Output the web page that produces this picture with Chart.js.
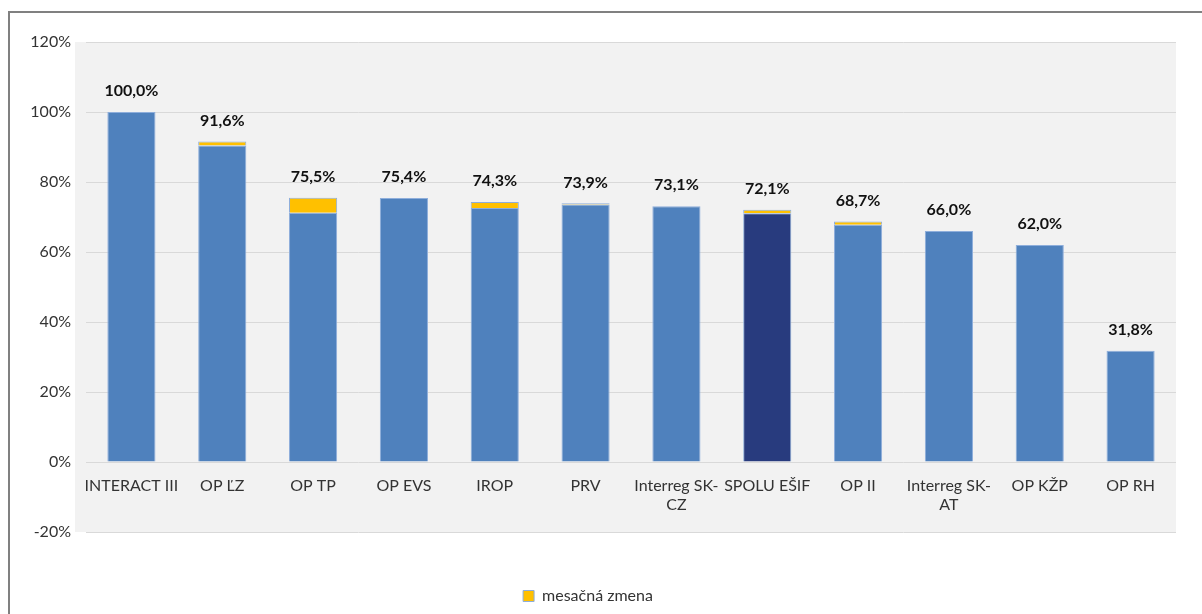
<!DOCTYPE html>
<html>
<head>
<meta charset="utf-8">
<script src="https://cdn.jsdelivr.net/npm/chart.js@4/dist/chart.umd.min.js"></script>
<style>
  html, body { margin: 0; padding: 0; background: #fff; }
  #wrap { position: relative; width: 1202px; height: 614px; overflow: hidden; }
  canvas { position: absolute; left: 0; top: 0; }
</style>
</head>
<body>
<div id="wrap"><canvas id="chart" width="1202" height="614"></canvas></div>
<script>
// categories (programs)
const programs = ['INTERACT III', 'OP ĽZ', 'OP TP', 'OP EVS', 'IROP', 'PRV', ['Interreg SK-', 'CZ'],
    'SPOLU EŠIF', 'OP II', ['Interreg SK-', 'AT'], 'OP KŽP', 'OP RH'];
// blue part of each bar (in %)
const baseValues = [100.0, 90.4, 71.2, 75.4, 72.6, 73.6, 73.1, 71.1, 67.8, 66.0, 62.0, 31.8];
// yellow part - monthly change (in %)
const monthlyChange = [0, 1.2, 4.3, -0.1, 1.7, 0.3, 0, 1.0, 0.9, 0, 0, 0];
// value labels above bars
const totals = [100.0, 91.6, 75.5, 75.4, 74.3, 73.9, 73.1, 72.1, 68.7, 66.0, 62.0, 31.8];
// y axis ticks
const yTicks = [-20, 0, 20, 40, 60, 80, 100, 120];

const FONT = 'Lato, "Open Sans", sans-serif';
const blue = '#4f81bd';
const darkBlue = '#283b7e';
const yellow = '#ffc000';

// gray plot background + outer frame
const backgroundPlugin = {
    id: 'bg',
    beforeDraw(chart) {
        const { ctx, chartArea } = chart;
        ctx.save();
        ctx.fillStyle = '#f2f2f2';
        ctx.fillRect(chartArea.left - 11, chartArea.top, chartArea.right - chartArea.left + 11, chartArea.bottom - chartArea.top);
        ctx.strokeStyle = '#808080';
        ctx.lineWidth = 2;
        ctx.beginPath();
        ctx.moveTo(9, 620);
        ctx.lineTo(9, 12);
        ctx.lineTo(1210, 12);
        ctx.stroke();
        ctx.restore();
    }
};

// total values above bars
const totalLabelsPlugin = {
    id: 'totalLabels',
    afterDatasetsDraw(chart) {
        const { ctx } = chart;
        const meta = chart.getDatasetMeta(0);
        const y = chart.scales.y;
        ctx.save();
        ctx.font = 'bold 16px ' + FONT;
        ctx.fillStyle = '#111';
        ctx.textAlign = 'center';
        ctx.textBaseline = 'middle';
        totals.forEach((v, i) => {
            const px = meta.data[i].x;
            const py = y.getPixelForValue(v) - 21;
            ctx.fillText(v.toFixed(1).replace('.', ',') + '%', px, py);
        });
        ctx.restore();
    }
};

const ctx = document.getElementById('chart').getContext('2d');
const chart = new Chart(ctx, {
    type: 'bar',
    data: {
        labels: programs,
        datasets: [{
            label: 'čerpanie',
            data: baseValues,
            backgroundColor: programs.map(p => p === 'SPOLU EŠIF' ? darkBlue : blue),
            borderColor: '#8eaedb',
            borderWidth: 1,
            barPercentage: 0.53,
            categoryPercentage: 1
        }, {
            label: 'mesačná zmena',
            data: monthlyChange,
            backgroundColor: yellow,
            borderColor: '#8eaedb',
            borderWidth: 1,
            barPercentage: 0.53,
            categoryPercentage: 1
        }]
    },
    options: {
        responsive: false,
        animation: false,
        devicePixelRatio: 1,
        layout: { padding: { left: 0, top: 42, right: 26, bottom: 0 } },
        plugins: {
            legend: {
                position: 'bottom',
                labels: {
                    filter: item => item.datasetIndex === 1,
                    boxWidth: 11,
                    boxHeight: 11,
                    padding: 56,
                    color: '#333',
                    font: { family: FONT, size: 16 }
                }
            },
            tooltip: { enabled: false }
        },
        scales: {
            x: {
                stacked: true,
                position: { y: 0 },
                grid: { display: false, drawTicks: false },
                border: { display: false },
                ticks: {
                    autoSkip: false,
                    maxRotation: 0,
                    padding: 14,
                    color: '#333',
                    font: { family: FONT, size: 16 }
                }
            },
            y: {
                stacked: true,
                min: -20,
                max: 120,
                afterFit: s => { s.width = 86; },
                afterBuildTicks: s => { s.ticks = yTicks.map(v => ({ value: v })); },
                grid: { color: '#d9d9d9', lineWidth: 1, drawTicks: false },
                border: { display: false },
                ticks: {
                    padding: 15,
                    color: '#333',
                    font: { family: FONT, size: 16 },
                    callback: v => v + '%'
                }
            }
        }
    },
    plugins: [backgroundPlugin, totalLabelsPlugin]
});
</script>
</body>
</html>
